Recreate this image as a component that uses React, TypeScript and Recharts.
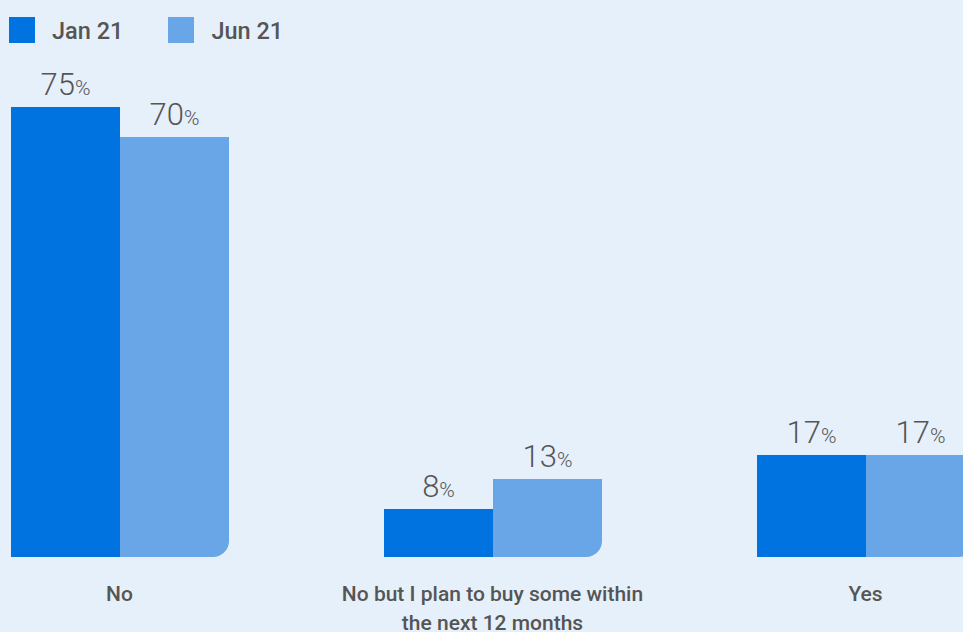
import React from "react";
import { BarChart, Bar, XAxis, YAxis, LabelList, Legend } from "recharts";

const categories = ["No", "No but I plan to buy some within the next 12 months", "Yes"];
const jan21 = [75, 8, 17];
const jun21 = [70, 13, 17];
const seriesNames = ["Jan 21", "Jun 21"];
const colors = ["#0073e1", "#68a6e8"];

const data = categories.map((c, i) => ({ name: c, jan: jan21[i], jun: jun21[i] }));

const TEXT = "#555555";
const FONT = "Roboto, 'Noto Sans', sans-serif";

const wrapWords = (s: string, maxChars: number) => {
  const words = s.split(" ");
  const lines: string[] = [];
  let cur = "";
  words.forEach((w) => {
    const next = cur ? cur + " " + w : w;
    if (next.length > maxChars && cur) {
      lines.push(cur);
      cur = w;
    } else {
      cur = next;
    }
  });
  if (cur) lines.push(cur);
  return lines;
};

const PctLabel = (props: any) => {
  const { x, y, width, value } = props;
  return (
    <text x={x + width / 2} y={y - 12.5} textAnchor="middle" fill={TEXT} fontFamily={FONT}>
      <tspan fontSize={31} fontWeight={300}>{value}</tspan>
      <tspan fontSize={21} fontWeight={300}>%</tspan>
    </text>
  );
};

const CatTick = (props: any) => {
  const { x, y, payload } = props;
  const lines = wrapWords(String(payload.value), 33);
  return (
    <text x={x} y={y} textAnchor="middle" fill={TEXT} fontSize={21} fontWeight={500} fontFamily={FONT}>
      {lines.map((l, i) => (
        <tspan key={i} x={x} dy={i === 0 ? 36 : 29}>
          {l}
        </tspan>
      ))}
    </text>
  );
};

const LegendContent = () => (
  <div style={{ display: "flex", alignItems: "center", paddingLeft: 9, paddingTop: 15, fontFamily: FONT }}>
    {seriesNames.map((n, i) => (
      <div key={n} style={{ display: "flex", alignItems: "center", marginRight: 45 }}>
        <div style={{ width: 26, height: 26, background: colors[i] }} />
        <span style={{ marginLeft: 17, fontSize: 23.5, fontWeight: 500, color: TEXT, lineHeight: "30px", position: "relative", top: 1 }}>{n}</span>
      </div>
    ))}
  </div>
);

export default function App() {
  return (
    <div
      style={{
        position: "fixed",
        left: 0,
        top: 0,
        width: 963,
        height: 632,
        overflow: "hidden",
        background: "#e6f0fa",
      }}
    >
      <div style={{ position: "absolute", left: -67, top: 0 }}>
        <BarChart
          width={1119}
          height={632}
          data={data}
          margin={{ top: 107, right: 0, bottom: 0, left: 0 }}
          barGap={0}
          barSize={109}
        >
          <XAxis
            dataKey="name"
            axisLine={false}
            tickLine={false}
            height={75}
            interval={0}
            tick={<CatTick />}
          />
          <YAxis hide domain={[0, 75]} />
          <Legend
            verticalAlign="middle"
            align="center"
            content={<LegendContent />}
            wrapperStyle={{ top: 0, left: 67, width: 500, height: 56 }}
          />
          <Bar dataKey="jan" name={seriesNames[0]} fill={colors[0]} isAnimationActive={false}>
            <LabelList dataKey="jan" content={<PctLabel />} />
          </Bar>
          <Bar dataKey="jun" name={seriesNames[1]} fill={colors[1]} radius={[0, 0, 16, 0]} isAnimationActive={false}>
            <LabelList dataKey="jun" content={<PctLabel />} />
          </Bar>
        </BarChart>
      </div>
    </div>
  );
}
